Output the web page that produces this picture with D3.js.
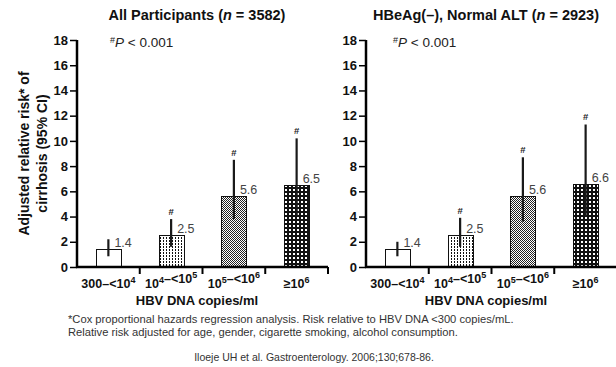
<!DOCTYPE html>
<html>
<head>
<meta charset="utf-8">
<script src="https://cdn.jsdelivr.net/npm/d3@7"></script>
<style>
  body { margin: 0; background: #fff; }
  svg { display: block; font-family: "Liberation Sans", Arial, sans-serif; }
</style>
</head>
<body>
<div id="chart"></div>
<script>
// categories use ^ to mark the superscript part
const categories = ['300–<10^4', '10^4–<10^5', '10^5–<10^6', '≥10^6'];
const yTicks = [0, 2, 4, 6, 8, 10, 12, 14, 16, 18];

const allRisk = [1.4, 2.5, 5.6, 6.5];
const allLow = [0.85, 1.6, 3.8, 4.0];
const allHigh = [2.2, 3.8, 8.5, 10.2];

const normRisk = [1.4, 2.5, 5.6, 6.6];
const normLow = [0.85, 1.6, 3.6, 4.0];
const normHigh = [2.0, 3.9, 8.7, 11.3];

const significant = [false, true, true, true];

const panels = [
  { title: ['All Participants (', 'n', ' = 3582)'], risk: allRisk, low: allLow, high: allHigh, x0: 77, noteDx: 33 },
  { title: ['HBeAg(–), Normal ALT (', 'n', ' = 2923)'], risk: normRisk, low: normLow, high: normHigh, x0: 366, noteDx: 27 }
];

const width = 616;
const height = 367;
const plotWidth = 251;
const plotTop = 40;
const plotBottom = 267;

const svg = d3.select('#chart')
  .append('svg')
  .attr('width', width)
  .attr('height', height);

// fill patterns for the four bars
const defs = svg.append('defs');
const fills = ['#fff', 'url(#pat-dots)', 'url(#pat-check)', 'url(#pat-dark)'];

const dots = defs.append('pattern').attr('id', 'pat-dots')
  .attr('patternUnits', 'userSpaceOnUse').attr('width', 3).attr('height', 3);
dots.append('rect').attr('width', 3).attr('height', 3).attr('fill', '#fff');
dots.append('rect').attr('x', 1).attr('y', 0).attr('width', 1).attr('height', 2).attr('fill', '#111');

const check = defs.append('pattern').attr('id', 'pat-check')
  .attr('patternUnits', 'userSpaceOnUse').attr('width', 2).attr('height', 2);
check.append('rect').attr('width', 2).attr('height', 2).attr('fill', '#fff');
check.append('rect').attr('width', 1).attr('height', 1).attr('fill', '#222');
check.append('rect').attr('x', 1).attr('y', 1).attr('width', 1).attr('height', 1).attr('fill', '#222');

const dark = defs.append('pattern').attr('id', 'pat-dark')
  .attr('patternUnits', 'userSpaceOnUse').attr('width', 4).attr('height', 4);
dark.append('rect').attr('width', 4).attr('height', 4).attr('fill', '#111');
dark.append('rect').attr('x', 1).attr('y', 1).attr('width', 2).attr('height', 2).attr('fill', '#fff');

const y = d3.scaleLinear().domain([0, 18]).range([plotBottom, plotTop]);

// writes "10^4" style labels as text with a raised tspan
const writeSup = (sel, label, supSize) => {
  label.split(/(\^\d)/).filter(s => s.length).forEach(part => {
    if (part[0] === '^') {
      sel.append('tspan').attr('dy', -5).attr('font-size', supSize).text(part.slice(1));
      sel.append('tspan').attr('dy', 5).text('');
    } else {
      sel.append('tspan').text(part);
    }
  });
};

panels.forEach(p => {
  const x = d3.scaleBand()
    .domain(categories)
    .range([p.x0, p.x0 + plotWidth])
    .paddingInner(0.6)
    .paddingOuter(0.3);

  const g = svg.append('g');
  const cx = p.x0 + 120;

  // title
  const title = g.append('text')
    .attr('x', cx).attr('y', 20)
    .attr('text-anchor', 'middle')
    .attr('font-size', 14.5).attr('font-weight', 'bold').attr('fill', '#111');
  title.append('tspan').text(p.title[0]);
  title.append('tspan').attr('font-style', 'italic').text(p.title[1]);
  title.append('tspan').text(p.title[2]);

  // significance note
  const note = g.append('text')
    .attr('x', p.x0 + p.noteDx).attr('y', 47)
    .attr('font-size', 13.5).attr('fill', '#222');
  note.append('tspan').attr('font-size', 9).attr('dy', -4).text('#');
  note.append('tspan').attr('dy', 4).attr('font-style', 'italic').text('P');
  note.append('tspan').text(' < 0.001');

  // bars
  const rows = categories.map((c, i) => ({
    cat: c, risk: p.risk[i], low: p.low[i], high: p.high[i], sig: significant[i], fill: fills[i]
  }));

  g.selectAll('rect.bar')
    .data(rows)
    .enter()
    .append('rect')
    .attr('class', 'bar')
    .attr('x', d => Math.round(x(d.cat)) + 0.5)
    .attr('y', d => Math.round(y(d.risk)) + 0.5)
    .attr('width', Math.round(x.bandwidth()))
    .attr('height', d => Math.round(y(0)) - Math.round(y(d.risk)))
    .attr('fill', d => d.fill)
    .attr('stroke', '#111')
    .attr('stroke-width', 1);

  // confidence intervals
  g.selectAll('line.ci')
    .data(rows)
    .enter()
    .append('line')
    .attr('class', 'ci')
    .attr('x1', d => x(d.cat) + x.bandwidth() / 2)
    .attr('x2', d => x(d.cat) + x.bandwidth() / 2)
    .attr('y1', d => y(d.low))
    .attr('y2', d => y(d.high))
    .attr('stroke', '#1a1a1a')
    .attr('stroke-width', 2.2);

  // significance marks
  g.selectAll('text.sig')
    .data(rows.filter(d => d.sig))
    .enter()
    .append('text')
    .attr('class', 'sig')
    .attr('x', d => x(d.cat) + x.bandwidth() / 2)
    .attr('y', d => y(d.high) - 4)
    .attr('text-anchor', 'middle')
    .attr('font-size', 9.5).attr('font-weight', 'bold').attr('fill', '#222')
    .text('#');

  // value labels
  g.selectAll('text.val')
    .data(rows)
    .enter()
    .append('text')
    .attr('class', 'val')
    .attr('x', d => x(d.cat) + x.bandwidth() / 2 + 6)
    .attr('y', d => y(d.risk) - 2)
    .attr('font-size', 12.5).attr('fill', '#444')
    .text(d => d.risk.toFixed(1));

  // y axis
  const yAxis = g.append('g')
    .attr('transform', `translate(${p.x0},0)`)
    .call(d3.axisLeft(y).tickValues(yTicks).tickSize(7).tickPadding(2).tickFormat(d3.format('d')));
  yAxis.select('.domain').attr('d', `M0,${y(18)}V${y(0)}`).attr('stroke', '#000').attr('stroke-width', 2.5);
  yAxis.selectAll('.tick line').attr('stroke', '#000').attr('stroke-width', 1.5);
  yAxis.selectAll('.tick text')
    .attr('font-family', '"Liberation Sans", Arial, sans-serif')
    .attr('font-size', 13).attr('font-weight', 'bold').attr('fill', '#111');

  // x axis
  g.append('line')
    .attr('x1', p.x0 - 1).attr('x2', p.x0 + plotWidth)
    .attr('y1', y(0)).attr('y2', y(0))
    .attr('stroke', '#000').attr('stroke-width', 2.5);
  g.selectAll('line.xtick')
    .data(categories)
    .enter()
    .append('line')
    .attr('class', 'xtick')
    .attr('x1', d => x(d) + x.bandwidth() / 2 + x.step() / 2)
    .attr('x2', d => x(d) + x.bandwidth() / 2 + x.step() / 2)
    .attr('y1', y(0))
    .attr('y2', y(0) + 7)
    .attr('stroke', '#000').attr('stroke-width', 2);

  g.selectAll('text.xlab')
    .data(categories)
    .enter()
    .append('text')
    .attr('class', 'xlab')
    .attr('x', d => x(d) + x.bandwidth() / 2)
    .attr('y', 288)
    .attr('text-anchor', 'middle')
    .attr('font-size', 12.5).attr('font-weight', 'bold').attr('fill', '#111')
    .each(function (d) { writeSup(d3.select(this), d, 9); });

  g.append('text')
    .attr('x', cx).attr('y', 305)
    .attr('text-anchor', 'middle')
    .attr('font-size', 13).attr('font-weight', 'bold').attr('fill', '#111')
    .text('HBV DNA copies/ml');
});

// y axis title
const yTitle = svg.append('text')
  .attr('transform', `translate(29,${(plotTop + plotBottom) / 2}) rotate(-90)`)
  .attr('text-anchor', 'middle')
  .attr('font-size', 14).attr('font-weight', 'bold').attr('fill', '#111');
yTitle.append('tspan').attr('x', 0).attr('dy', 0).text('Adjusted relative risk* of');
yTitle.append('tspan').attr('x', 0).attr('dy', 17.5).text('cirrhosis (95% CI)');

// footnotes
const foot = svg.append('text')
  .attr('x', 68).attr('y', 323)
  .attr('font-size', 11.2).attr('fill', '#333');
foot.append('tspan').attr('x', 68).text('*Cox proportional hazards regression analysis. Risk relative to HBV DNA <300 copies/mL.');
foot.append('tspan').attr('x', 68).attr('dy', 12.5).text('Relative risk adjusted for age, gender, cigarette smoking, alcohol consumption.');

svg.append('text')
  .attr('x', 314).attr('y', 361)
  .attr('text-anchor', 'middle')
  .attr('font-size', 10.5).attr('fill', '#333')
  .text('Iloeje UH et al. Gastroenterology. 2006;130;678-86.');
</script>
</body>
</html>
